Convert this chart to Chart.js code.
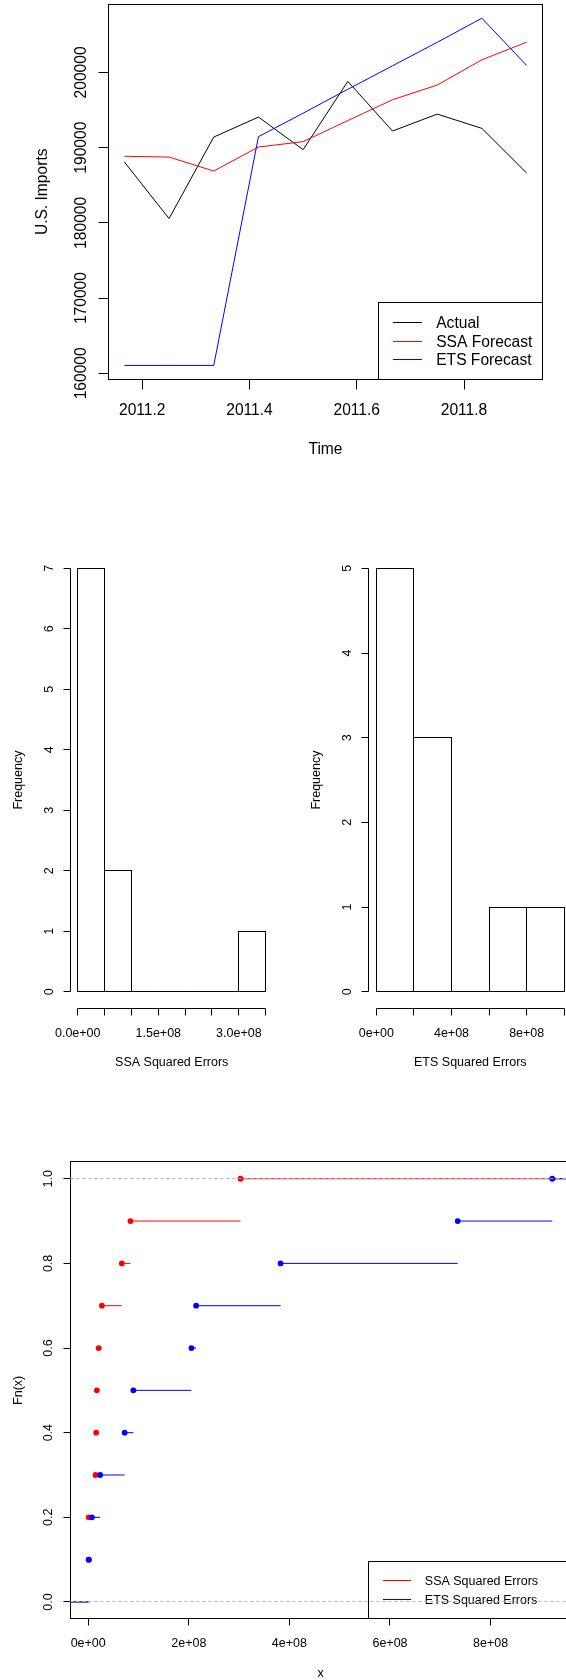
<!DOCTYPE html>
<html>
<head>
<meta charset="utf-8">
<script src="https://cdn.jsdelivr.net/npm/chart.js@4.4.1/dist/chart.umd.min.js"></script>
<style>
html,body{margin:0;padding:0;width:566px;height:1680px;overflow:hidden;background:#fff;}
.box{position:absolute;}
</style>
</head>
<body>
<div class="box" style="left:0;top:0;width:566px;height:470px"><canvas id="c1"></canvas></div>
<div class="box" style="left:0;top:520px;width:283px;height:580px"><canvas id="c2"></canvas></div>
<div class="box" style="left:283px;top:520px;width:300px;height:580px"><canvas id="c3"></canvas></div>
<div class="box" style="left:0;top:1120px;width:600px;height:560px"><canvas id="c4"></canvas></div>
<script>
// ---------------- DATA ----------------
const months = [2011.1667, 2011.25, 2011.3333, 2011.4167, 2011.5, 2011.5833, 2011.6667, 2011.75, 2011.8333, 2011.9167];
const actual      = [188090, 180570, 191410, 194060, 189730, 198810, 192210, 194460, 192560, 186630];
const ssaForecast = [188850, 188750, 186890, 190080, 190800, 193600, 196370, 198320, 201680, 204020];
const etsForecast = [161050, 161050, 161050, 191460, 194580, 197760, 200880, 204000, 207210, 200930];
const timeTicks = [2011.2, 2011.4, 2011.6, 2011.8];
const timeLabels = ['2011.2', '2011.4', '2011.6', '2011.8'];
const importTicks = [160000, 170000, 180000, 190000, 200000];
const importLabels = ['160000', '170000', '180000', '190000', '200000'];

const ssaBreaks = [0, 5e7, 1e8, 1.5e8, 2e8, 2.5e8, 3e8, 3.5e8];
const ssaCounts = [7, 2, 0, 0, 0, 0, 1];
const ssaHistXLabels = ['0.0e+00', '', '', '1.5e+08', '', '', '3.0e+08', ''];
const ssaFreqTicks = [0, 1, 2, 3, 4, 5, 6, 7];
const ssaFreqLabels = ['0', '1', '2', '3', '4', '5', '6', '7'];

const etsBreaks = [0, 2e8, 4e8, 6e8, 8e8, 1e9];
const etsCounts = [5, 3, 0, 1, 1];
const etsHistXLabels = ['0e+00', '', '4e+08', '', '8e+08', ''];
const etsFreqTicks = [0, 1, 2, 3, 4, 5];
const etsFreqLabels = ['0', '1', '2', '3', '4', '5'];

const ssaSqErr = [0.6e6, 1.1e6, 14.6e6, 15.9e6, 17.3e6, 20.7e6, 27.3e6, 66.8e6, 84.0e6, 302.8e6];
const etsSqErr = [1.5e6, 7.3e6, 23.8e6, 72.5e6, 89.8e6, 205.3e6, 214.6e6, 382.5e6, 734.6e6, 922.6e6];
const ecdfLevels = [0.1, 0.2, 0.3, 0.4, 0.5, 0.6, 0.7, 0.8, 0.9, 1.0];
const ecdfXTicks = [0, 2e8, 4e8, 6e8, 8e8];
const ecdfXLabels = ['0e+00', '2e+08', '4e+08', '6e+08', '8e+08'];
const ecdfYTicks = [0, 0.2, 0.4, 0.6, 0.8, 1.0];
const ecdfYLabels = ['0.0', '0.2', '0.4', '0.6', '0.8', '1.0'];

// ---------------- HELPERS ----------------
const FONT = '"Liberation Sans", Arial, Helvetica, sans-serif';
function crisp(v) { return Math.floor(v) + 0.5; }
function padRange(vals) {
  const mn = Math.min(...vals), mx = Math.max(...vals), d = (mx - mn) * 0.04;
  return [mn - d, mx + d];
}
function setTicks(arr) { return s => { s.ticks = arr.map(v => ({ value: v })); }; }
function axisOpts(r, tickArr) {
  return { type: 'linear', display: false, offset: false, min: r[0], max: r[1],
    ticks: { autoSkip: false }, afterBuildTicks: setTicks(tickArr) };
}

const rPlot = {
  id: 'rPlot',
  afterDatasetsDraw(chart, args, o) {
    if (!o.histOutline) return;
    const ctx = chart.ctx;
    ctx.save();
    ctx.strokeStyle = '#000'; ctx.lineWidth = 1;
    chart.getDatasetMeta(0).data.forEach(el => {
      const p = el.getProps(['x', 'y', 'base', 'width'], true);
      const l = crisp(p.x - p.width / 2), r = crisp(p.x + p.width / 2);
      const t = crisp(Math.min(p.y, p.base)), b = crisp(Math.max(p.y, p.base));
      ctx.strokeRect(l, t, r - l, b - t);
    });
    ctx.restore();
  },
  afterDraw(chart, args, o) {
    const ctx = chart.ctx, ca = chart.chartArea;
    const xs = chart.scales.x, ys = chart.scales.y;
    const fs = o.fontSize, dy = 0.36 * fs;
    ctx.save();
    ctx.lineWidth = 1; ctx.strokeStyle = '#000'; ctx.fillStyle = '#000';
    ctx.font = fs + 'px ' + FONT;
    if (o.box) {
      const l = crisp(ca.left), t = crisp(ca.top), r = crisp(ca.right), b = crisp(ca.bottom);
      ctx.strokeRect(l, t, r - l, b - t);
    }
    const ay = crisp(ca.bottom), ax = crisp(ca.left);
    const xv = xs.ticks.map(t => t.value), yv = ys.ticks.map(t => t.value);
    const xp = xv.map(v => xs.getPixelForValue(v));
    const yp = yv.map(v => ys.getPixelForValue(v));
    ctx.beginPath();
    ctx.moveTo(crisp(xp[0]), ay); ctx.lineTo(crisp(xp[xp.length - 1]), ay);
    xp.forEach(p => { ctx.moveTo(crisp(p), ay); ctx.lineTo(crisp(p), ay + o.tickLen); });
    ctx.moveTo(ax, crisp(yp[0])); ctx.lineTo(ax, crisp(yp[yp.length - 1]));
    yp.forEach(p => { ctx.moveTo(ax, crisp(p)); ctx.lineTo(ax - o.tickLen, crisp(p)); });
    ctx.stroke();
    ctx.textAlign = 'center'; ctx.textBaseline = 'alphabetic';
    const labelFor = (vals, labs, v) => { const k = vals.indexOf(v); return k >= 0 ? labs[k] : ''; };
    xv.forEach((v, i) => { const l = labelFor(o.xTickVals, o.xLabels, v); if (l) ctx.fillText(l, xp[i], ay + o.xLabOff + dy); });
    ctx.fillText(o.xTitle, (ca.left + ca.right) / 2, ay + o.xTitleOff + dy);
    yv.forEach((v, i) => {
      const l = labelFor(o.yTickVals, o.yLabels, v);
      if (!l) return;
      ctx.save(); ctx.translate(ax - o.yLabOff + dy, yp[i]); ctx.rotate(-Math.PI / 2);
      ctx.fillText(l, 0, 0); ctx.restore();
    });
    ctx.save(); ctx.translate(ax - o.yTitleOff + dy, (ca.top + ca.bottom) / 2); ctx.rotate(-Math.PI / 2);
    ctx.fillText(o.yTitle, 0, 0); ctx.restore();
    // legend
    if (o.legend) {
      const L = o.legend;
      const right = crisp(ca.right), bottom = crisp(ca.bottom);
      const left = crisp(ca.right - L.width), top = crisp(ca.bottom - L.height);
      ctx.strokeStyle = '#000';
      ctx.strokeRect(left, top, right - left, bottom - top);
      ctx.textAlign = 'left';
      L.items.forEach((it, i) => {
        const y = top + L.rows[i];
        ctx.strokeStyle = it.color;
        ctx.beginPath(); ctx.moveTo(left + L.line0, crisp(y)); ctx.lineTo(left + L.line1, crisp(y)); ctx.stroke();
        ctx.fillStyle = '#000';
        ctx.fillText(it.label, left + L.text, y + dy);
      });
    }
    // reference lines
    if (o.hlines) {
      ctx.strokeStyle = '#b3b3b3'; ctx.setLineDash([3, 3]);
      o.hlines.forEach(v => {
        const y = crisp(ys.getPixelForValue(v));
        ctx.beginPath(); ctx.moveTo(ca.left, y); ctx.lineTo(ca.right, y); ctx.stroke();
      });
    }
    ctx.restore();
  }
};

const base = { animation: false, responsive: true, maintainAspectRatio: false, events: [] };

// ---------------- CHART 1: time series ----------------
const tR = padRange(months);
const yR = padRange(actual.concat(ssaForecast, etsForecast));
const toXY = arr => arr.map((v, i) => ({ x: months[i], y: v }));
new Chart(document.getElementById('c1'), {
  type: 'line',
  data: { datasets: [
    { label: 'ETS Forecast', data: toXY(etsForecast), borderColor: '#0000ff', order: 0 },
    { label: 'SSA Forecast', data: toXY(ssaForecast), borderColor: '#ff0000', order: 1 },
    { label: 'Actual', data: toXY(actual), borderColor: '#000000', order: 2 },
  ].map(d => Object.assign(d, { borderWidth: 1, pointRadius: 0, tension: 0, fill: false })) },
  options: Object.assign({}, base, {
    layout: { padding: { left: 108.3, top: 4.3, right: 23.3, bottom: 90.7 } },
    scales: { x: axisOpts(tR, timeTicks), y: axisOpts(yR, importTicks) },
    plugins: {
      legend: { display: false }, tooltip: { enabled: false },
      rPlot: {
        fontSize: 15.6, box: true, tickLen: 10,
        xTickVals: timeTicks, xLabels: timeLabels, xLabOff: 29.7, xTitle: 'Time', xTitleOff: 68.4,
        yTickVals: importTicks, yLabels: importLabels, yLabOff: 28.3, yTitle: 'U.S. Imports', yTitleOff: 66.8,
        legend: { width: 164.4, height: 76.6, line0: 14.4, line1: 43.4, text: 57.7, rows: [20, 39, 57.3],
          items: [{ label: 'Actual', color: '#000' }, { label: 'SSA Forecast', color: '#ff0000' }, { label: 'ETS Forecast', color: '#0000ff' }] },
      },
    },
  }),
  plugins: [rPlot],
});

// ---------------- CHARTS 2 & 3: histograms ----------------
function histChart(id, breaks, counts, xLabels, fTicks, fLabels, title, padLeft, padRight) {
  const xr = padRange(breaks);
  const yr = padRange([0, Math.max(...counts)]);
  const data = counts.map((c, i) => ({ x: (breaks[i] + breaks[i + 1]) / 2, y: c }));
  new Chart(document.getElementById(id), {
    type: 'bar',
    data: { datasets: [{ data, backgroundColor: '#ffffff', borderWidth: 0, barPercentage: 1, categoryPercentage: 1 }] },
    options: Object.assign({}, base, {
      layout: { padding: { left: padLeft, top: 31.4, right: padRight, bottom: 91.3 } },
      scales: { x: axisOpts(xr, breaks), y: axisOpts(yr, fTicks) },
      plugins: {
        legend: { display: false }, tooltip: { enabled: false },
        rPlot: {
          histOutline: true, fontSize: 12.5, box: false, tickLen: 7,
          xTickVals: breaks, xLabels: xLabels, xLabOff: 24, xTitle: title, xTitleOff: 53,
          yTickVals: fTicks, yLabels: fLabels, yLabOff: 22, yTitle: 'Frequency', yTitleOff: 53,
        },
      },
    }),
    plugins: [rPlot],
  });
}
histChart('c2', ssaBreaks, ssaCounts, ssaHistXLabels, ssaFreqTicks, ssaFreqLabels, 'SSA Squared Errors', 70.2, 9.8);
histChart('c3', etsBreaks, etsCounts, etsHistXLabels, etsFreqTicks, etsFreqLabels, 'ETS Squared Errors', 85.8, 11.2);

// ---------------- CHART 4: ECDF ----------------
const exR = padRange(etsSqErr);
const eyR = padRange([0, 1]);
function ecdfSegments(knots, levels, xmin, xmax) {
  const pts = [];
  const starts = [xmin].concat(knots);
  const ends = knots.concat([xmax]);
  const lv = [0].concat(levels);
  for (let i = 0; i < starts.length; i++) {
    pts.push({ x: starts[i], y: lv[i] }, { x: ends[i], y: lv[i] });
    if (i < starts.length - 1) pts.push({ x: ends[i], y: null });
  }
  return pts;
}
const ecdfPts = knots => knots.map((k, i) => ({ x: k, y: ecdfLevels[i] }));
new Chart(document.getElementById('c4'), {
  type: 'scatter',
  data: { datasets: [
    { data: ecdfPts(etsSqErr), backgroundColor: '#0000ff', pointRadius: 2.9, borderWidth: 0, order: 0 },
    { data: ecdfSegments(etsSqErr, ecdfLevels, exR[0], exR[1]), showLine: true, borderColor: '#0000ff', borderWidth: 1, pointRadius: 0, order: 1 },
    { data: ecdfPts(ssaSqErr), backgroundColor: '#ff0000', pointRadius: 2.9, borderWidth: 0, order: 2 },
    { data: ecdfSegments(ssaSqErr, ecdfLevels, exR[0], exR[1]), showLine: true, borderColor: '#ff0000', borderWidth: 1, pointRadius: 0, order: 3 },
  ] },
  options: Object.assign({}, base, {
    layout: { padding: { left: 70.4, top: 41.8, right: 29.2, bottom: 61.1 } },
    scales: { x: axisOpts(exR, ecdfXTicks), y: axisOpts(eyR, ecdfYTicks) },
    plugins: {
      legend: { display: false }, tooltip: { enabled: false },
      rPlot: {
        fontSize: 12.5, box: true, tickLen: 7,
        xTickVals: ecdfXTicks, xLabels: ecdfXLabels, xLabOff: 23.7, xTitle: 'x', xTitleOff: 53.7,
        yTickVals: ecdfYTicks, yLabels: ecdfYLabels, yLabOff: 23.4, yTitle: 'Fn(x)', yTitleOff: 53,
        legend: { width: 201.8, height: 57.2, line0: 14.4, line1: 42.6, text: 56.3, rows: [18.6, 38.3],
          items: [{ label: 'SSA Squared Errors', color: '#ff0000' }, { label: 'ETS Squared Errors', color: '#0000ff' }] },
        hlines: [0, 1],
      },
    },
  }),
  plugins: [rPlot],
});
</script>
</body>
</html>
